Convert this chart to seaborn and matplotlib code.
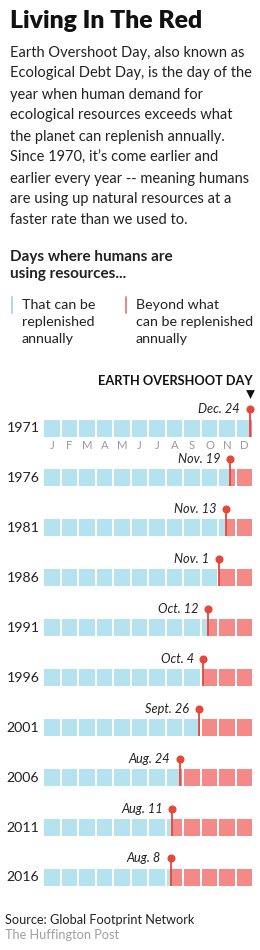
import matplotlib
matplotlib.use("Agg")
import matplotlib.pyplot as plt
import matplotlib.transforms as mtransforms
import seaborn as sns
import pandas as pd
import numpy as np

sns.set_theme(style="white")
plt.rcParams['font.family'] = ['Lato', 'DejaVu Sans']

# ---- data ----
years = [1971, 1976, 1981, 1986, 1991, 1996, 2001, 2006, 2011, 2016]
overshoot_month = [12, 11, 11, 11, 10, 10, 9, 8, 8, 8]
overshoot_day = [24, 19, 13, 1, 12, 4, 26, 24, 11, 8]
date_labels = ["Dec. 24", "Nov. 19", "Nov. 13", "Nov. 1", "Oct. 12", "Oct. 4",
               "Sept. 26", "Aug. 24", "Aug. 11", "Aug. 8"]
month_letters = ["J", "F", "M", "A", "M", "J", "J", "A", "S", "O", "N", "D"]
days_in_month = [31, 28, 31, 30, 31, 30, 31, 31, 30, 31, 30, 31]

title = "Living In The Red"
body_lines = [
    "Earth Overshoot Day, also known as",
    "Ecological Debt Day, is the day of the",
    "year when human demand for",
    "ecological resources exceeds what",
    "the planet can replenish annually.",
    "Since 1970, it\u2019s come earlier and",
    "earlier every year -- meaning humans",
    "are using up natural resources at a",
    "faster rate than we used to.",
]
subhead = ["Days where humans are", "using resources..."]
legend_blue = ["That can be", "replenished", "annually"]
legend_red = ["Beyond what", "can be replenished", "annually"]
annot_title = "EARTH OVERSHOOT DAY"
source = "Source: Global Footprint Network"
credit = "The Huffington Post"

BLUE = "#b4e2ee"
PINK = "#f48a88"
RED = "#e5473b"
GREY = "#a0a0a0"
W, H = 260, 950

fig = plt.figure(figsize=(W / 100, H / 100), dpi=100)
fig.patch.set_facecolor("white")


def fy(px):
    return 1 - px / H


def fx(px):
    return px / W


# ---- header text ----
fig.text(fx(10), fy(27.5), title, fontsize=17.8, fontweight="heavy",
         color="#111111", va="baseline", ha="left")
for i, line in enumerate(body_lines):
    fig.text(fx(10), fy(56.5 + 21.0 * i), line, fontsize=10.5,
             color="#222222", va="baseline", ha="left")
for i, line in enumerate(subhead):
    fig.text(fx(10), fy(261.5 + 16.5 * i), line, fontsize=11,
             fontweight="bold", color="#222222", va="baseline", ha="left")
for i, line in enumerate(legend_blue):
    fig.text(fx(22), fy(309 + 16.8 * i), line, fontsize=10.3,
             color="#222222", va="baseline", ha="left")
for i, line in enumerate(legend_red):
    fig.text(fx(136), fy(309 + 16.8 * i), line, fontsize=10.3,
             color="#222222", va="baseline", ha="left")
fig.add_artist(plt.Line2D([fx(12), fx(12)], [fy(297), fy(313)],
                          color="#9fd9ea", lw=1.3, transform=fig.transFigure))
fig.add_artist(plt.Line2D([fx(126), fx(126)], [fy(297), fy(313)],
                          color="#f07a78", lw=1.3, transform=fig.transFigure))
fig.text(fx(253), fy(385), annot_title, fontsize=9.2, fontweight="bold",
         color="#111111", va="baseline", ha="right")
fig.text(fx(5), fy(923.5), source, fontsize=9.2, color="#222222",
         va="baseline", ha="left")
fig.text(fx(5), fy(939), credit, fontsize=9.2, color=GREY,
         va="baseline", ha="left")

# ---- chart axes ----
row_top_px, row_step = 428.0, 49.94
ax_top_px = row_top_px - row_step      # row -1
ax_bot_px = row_top_px + 10 * row_step  # row 10
x0_px, x1_px = 44.3, 44.3 + 12 * 17.5
ax = fig.add_axes([fx(x0_px), fy(ax_bot_px), (x1_px - x0_px) / W,
                   (ax_bot_px - ax_top_px) / H])
ax.set_xlim(0, 12)
ax.set_ylim(10, -1)
ax.axis("off")

gap = 2.0 / 17.5
cell_w = 1 - gap
cell_h = 17.0 / row_step

pos = [m - 1 + (d - 1) / days_in_month[m - 1]
       for m, d in zip(overshoot_month, overshoot_day)]

for r, p in enumerate(pos):
    for m in range(12):
        left, right = m, m + cell_w
        if left < p:
            ax.barh(r, min(right, p) - left, left=left, height=cell_h,
                    color=BLUE, linewidth=0)
        if right > p:
            ax.barh(r, right - max(left, p), left=max(left, p),
                    height=cell_h, color=PINK, linewidth=0)

dot_dy = 0.38
df = pd.DataFrame({"pos": pos, "row": np.arange(len(years)) - dot_dy})
for r, p in enumerate(pos):
    ax.plot([p, p], [r - dot_dy, r + cell_h / 2], color=RED, lw=1.3,
            solid_capstyle="butt", zorder=4)
sns.scatterplot(data=df, x="pos", y="row", ax=ax, color=RED, s=34,
                linewidth=0, zorder=5, clip_on=False, legend=False)
for r, (p, lab) in enumerate(zip(pos, date_labels)):
    ax.annotate(lab, (p, r - dot_dy), xytext=(-7, 0),
                textcoords="offset points", ha="right", va="center",
                fontsize=9.2, fontstyle="italic", color="#222222")

# triangle marker above first overshoot
ax.scatter([pos[0]], [-0.68], marker="v", s=40, color="#111111",
           linewidths=0, clip_on=False, zorder=5)

# month letters
for m, letter in enumerate(month_letters):
    ax.text(m + cell_w / 2, 0.36, letter, ha="center", va="center",
            fontsize=8.2, fontweight="normal", color="#9a9a9a")

# year labels
trans = mtransforms.blended_transform_factory(fig.transFigure, ax.transData)
for r, y in enumerate(years):
    ax.text(fx(6.5), r, str(y), transform=trans, ha="left", va="center",
            fontsize=10.2, color="#222222")

fig.savefig("out.png", dpi=100, facecolor="white")
